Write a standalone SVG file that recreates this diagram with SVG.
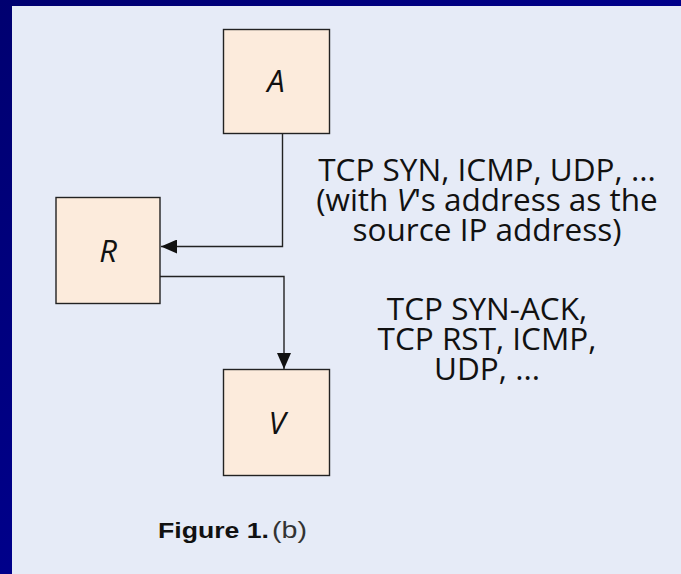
<svg xmlns="http://www.w3.org/2000/svg" width="681" height="574" viewBox="0 0 681 574">
  <defs>
    <linearGradient id="bg" x1="0" y1="0" x2="1" y2="1">
      <stop offset="0" stop-color="#000070"/>
      <stop offset="0.5" stop-color="#00008a"/>
      <stop offset="1" stop-color="#000066"/>
    </linearGradient>
    <marker id="arrow" markerUnits="userSpaceOnUse" markerWidth="17" markerHeight="14" refX="16" refY="7" orient="auto">
      <path d="M0,0 L16,7 L0,14 Z" fill="#111"/>
    </marker>
    <style>
      .box { fill: #fcebdc; stroke: #222; stroke-width: 1.4; }
      .node-label { font-family: "Open Sans", "Noto Sans", sans-serif; font-style: italic; font-size: 31px; fill: #111; text-anchor: middle; }
      .lbl { font-family: "Open Sans", "Noto Sans", sans-serif; font-size: 31.5px; fill: #111; text-anchor: middle; }
      .conn { fill: none; stroke: #222; stroke-width: 1.4; }
    </style>
  </defs>
  <rect x="0" y="0" width="681" height="574" fill="url(#bg)"/>
  <rect x="12" y="6" width="669" height="568" fill="#e6ebf7"/>

  <g id="node-A">
    <rect class="box" x="223.5" y="29.5" width="106" height="104"/>
    <text class="node-label" x="276" y="92">A</text>
  </g>
  <g id="node-R">
    <rect class="box" x="56" y="197.5" width="104" height="106"/>
    <text class="node-label" x="108" y="262">R</text>
  </g>
  <g id="node-V">
    <rect class="box" x="223.5" y="369.5" width="106" height="106"/>
    <text class="node-label" x="277" y="434">V</text>
  </g>

  <g id="connectors">
    <path class="conn" d="M282.5,133.5 V246.5 H161" marker-end="url(#arrow)"/>
    <path class="conn" d="M160,276.5 H284 V369" marker-end="url(#arrow)"/>
  </g>

  <g id="labels">
    <text class="lbl" x="487" y="181">TCP SYN, ICMP, UDP, ...</text>
    <text class="lbl" x="487" y="211">(with <tspan font-style="italic">V</tspan>'s address as the</text>
    <text class="lbl" x="487" y="241">source IP address)</text>
    <text class="lbl" x="487" y="320">TCP SYN-ACK,</text>
    <text class="lbl" x="487" y="350">TCP RST, ICMP,</text>
    <text class="lbl" x="487" y="380">UDP, ...</text>
  </g>

  <g id="caption">
    <text x="158" y="538" font-family="'Liberation Sans', Arial, sans-serif" font-weight="bold" font-size="22.5" fill="#111" textLength="111" lengthAdjust="spacingAndGlyphs">Figure 1.</text>
    <text x="272" y="538" font-family="'Liberation Sans', Arial, sans-serif" font-size="24" fill="#333" textLength="35" lengthAdjust="spacingAndGlyphs">(b)</text>
  </g>
</svg>
